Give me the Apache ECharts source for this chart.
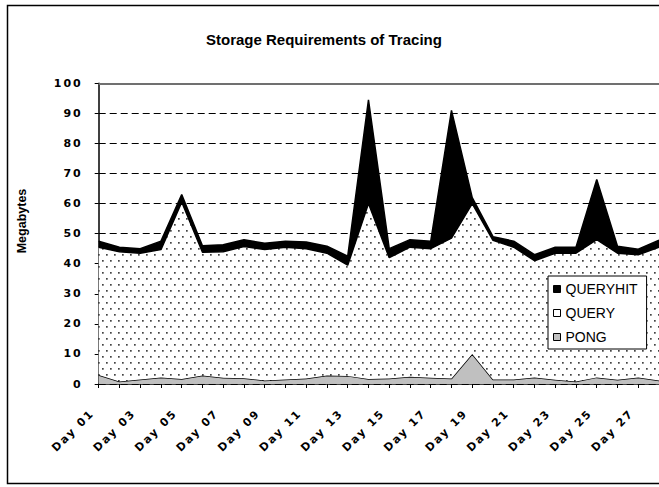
<!DOCTYPE html>
<html>
<head>
<meta charset="utf-8">
<script src="https://cdn.jsdelivr.net/npm/echarts@6/dist/echarts.min.js"></script>
<style>
html,body{margin:0;padding:0;background:#fff;}
#c{width:659px;height:487px;}
#c svg text[style*="DejaVu"], #c svg text[font-family*="DejaVu"]{letter-spacing:2px;}
</style>
</head>
<body>
<div id="c"></div>
<script>
const days = ['Day 01','Day 02','Day 03','Day 04','Day 05','Day 06','Day 07','Day 08','Day 09','Day 10',
  'Day 11','Day 12','Day 13','Day 14','Day 15','Day 16','Day 17','Day 18','Day 19','Day 20',
  'Day 21','Day 22','Day 23','Day 24','Day 25','Day 26','Day 27','Day 28'];
const pong = [3.0,0.8,1.5,2.2,1.7,2.8,2.1,1.9,1.2,1.5,1.8,2.8,2.7,1.7,1.8,2.4,2.1,1.8,10.0,1.5,1.5,2.2,1.4,0.8,2.2,1.4,2.2,1.2];
const query = [42.5,43.2,42.0,42.5,58.8,41.0,41.9,43.8,43.5,44.0,43.2,40.7,36.8,58.3,40.2,43.1,42.9,46.7,50.0,46.3,44.0,38.8,42.1,42.7,45.8,42.1,40.8,44.3];
const queryHit = [2.0,1.5,1.5,2.8,2.5,2.2,2.3,2.3,2.1,2.0,2.2,2.3,3.0,34.5,3.0,2.5,2.5,42.5,2.0,1.2,2.0,2.0,2.0,2.0,20.0,2.3,1.8,2.3];
const yMin = 0, yMax = 100, yStep = 10;
const titleText = 'Storage Requirements of Tracing';
const yName = 'Megabytes';

// dotted fill pattern
const pc = document.createElement('canvas');
pc.width = 16; pc.height = 12;
const pctx = pc.getContext('2d');
pctx.fillStyle = '#fff'; pctx.fillRect(0,0,16,12);
pctx.fillStyle = '#444';
[[2,2],[10,2],[6,8],[14,8]].forEach(p => pctx.fillRect(p[0],p[1],1.7,1.7));

const chart = echarts.init(document.getElementById('c'), null, {renderer:'svg'});
const labelFont = 'DejaVu Sans';
chart.setOption({
  animation: false,
  backgroundColor: '#fff',
  title: {
    text: titleText, left: 206, top: 32, padding: 0,
    textStyle: {fontFamily: 'Liberation Sans', fontWeight: 'bold', fontSize: 15, color: '#000'}
  },
  graphic: [
    {type:'rect', shape:{x:7.5, y:5.5, width:700, height:478}, style:{fill:'none', stroke:'#000', lineWidth:1.5}, z:-1, silent:true},
    {type:'text', x:22, y:221, rotation: Math.PI/2,
     style:{text: yName, fontFamily:'Liberation Sans', fontWeight:'bold', fontSize:12.5, fill:'#000', textAlign:'center', textVerticalAlign:'middle'}}
  ],
  legend: {
    orient: 'vertical', left: 548, top: 276,
    padding: [6, 9, 5, 5], itemGap: 10, itemWidth: 7, itemHeight: 7,
    backgroundColor: '#fff', borderColor: '#000', borderWidth: 1,
    textStyle: {fontFamily: 'Liberation Sans', fontSize: 14, color: '#000', lineHeight: 14},
    data: [
      {name:'QUERYHIT', icon:'rect', itemStyle:{color:'#000', borderColor:'#000', borderWidth:1}},
      {name:'QUERY', icon:'rect', itemStyle:{color:'#fff', borderColor:'#000', borderWidth:1}},
      {name:'PONG', icon:'rect', itemStyle:{color:'#c0c0c0', borderColor:'#000', borderWidth:1}}
    ]
  },
  grid: {left: 98.7, top: 83.3, width: 565.7, height: 300.7, containLabel: false},
  xAxis: {
    type: 'category', data: days, boundaryGap: false,
    axisLine: {lineStyle: {color: '#000', width: 1.5}},
    axisTick: {show: true, interval: 0, length: 4, lineStyle: {color:'#000'}},
    axisLabel: {interval: 1, rotate: 45, margin: 21, padding: [0, 9, 0, 0],
      fontFamily: labelFont, fontWeight: 'bold', fontSize: 11, color: '#000'},
    splitLine: {show: false}
  },
  yAxis: {
    type: 'value', min: yMin, max: yMax, interval: yStep,
    axisLine: {show: true, lineStyle: {color: '#000', width: 1.5}},
    axisTick: {show: true, length: 4, lineStyle: {color:'#000'}},
    axisLabel: {margin: 16, fontFamily: labelFont, fontWeight: 'bold', fontSize: 11, color: '#000'},
    splitLine: {show: true, lineStyle: {color: '#000', type: [7, 4], width: 1}}
  },
  series: [
    {name:'PONG', type:'line', stack:'s', data: pong, symbol:'none',
     lineStyle:{color:'#000', width:1.5}, itemStyle:{color:'#c0c0c0'},
     areaStyle:{color:'#c0c0c0', opacity:1}, z: 2,
     markLine: {silent:true, symbol:'none', label:{show:false},
       lineStyle:{color:'#707070', type:'solid', width:2}, data:[{yAxis: yMax}]}},
    {name:'QUERY', type:'line', stack:'s', data: query, symbol:'none',
     lineStyle:{color:'#000', width:1.5}, itemStyle:{color:'#fff'},
     areaStyle:{color:{image: pc, repeat:'repeat'}, opacity:1}, z: 3},
    {name:'QUERYHIT', type:'line', stack:'s', data: queryHit, symbol:'none',
     lineStyle:{color:'#000', width:1.5}, itemStyle:{color:'#000'},
     areaStyle:{color:'#000', opacity:1}, z: 4}
  ]
});
function spaceLabels(){
  document.querySelectorAll('#c svg text').forEach(t => {
    const s = t.textContent.trim();
    if (/^Day \d+$/.test(s) || /^\d+$/.test(s)) t.style.letterSpacing = '2px';
  });
}
spaceLabels();
chart.on('finished', spaceLabels);
setTimeout(spaceLabels, 0);
</script>
</body>
</html>
